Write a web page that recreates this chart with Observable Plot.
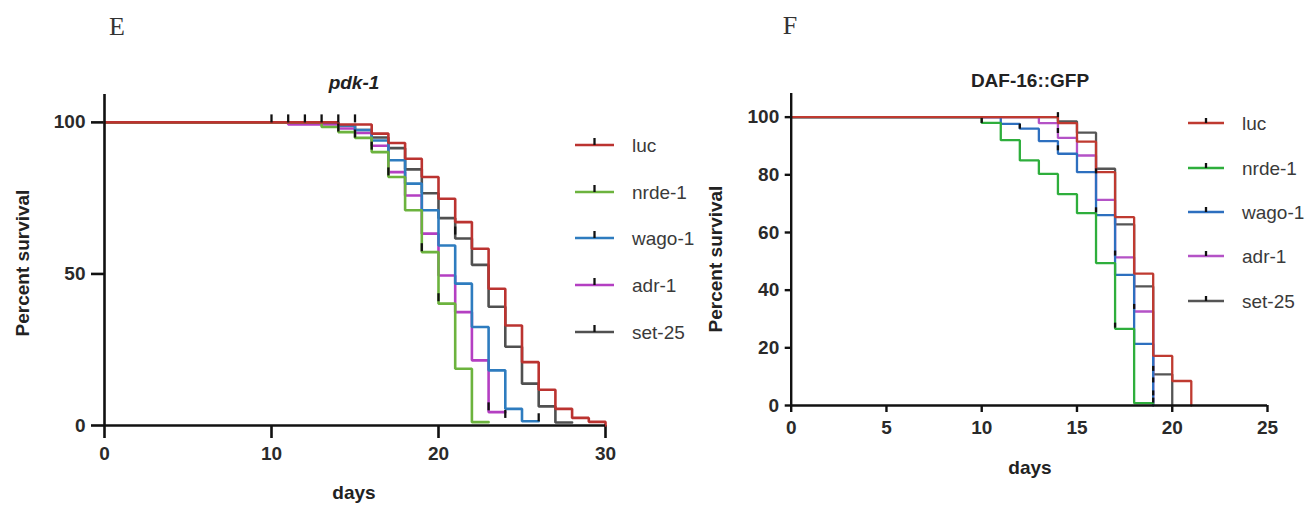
<!DOCTYPE html>
<html><head><meta charset="utf-8">
<script src="https://cdn.jsdelivr.net/npm/d3@7"></script>
<script src="https://cdn.jsdelivr.net/npm/@observablehq/plot@0.6"></script>
<style>
body{margin:0;background:#fff;}
#wrap{position:relative;width:1316px;height:505px;overflow:hidden;font-family:"Liberation Sans",Arial,sans-serif;background:#fff;}
.abs{position:absolute;white-space:nowrap;line-height:1;}
.panel{position:absolute;top:0;}
.ttl{font-weight:bold;font-size:19px;color:#222;transform:translate(-50%,-50%);}
.lbl{font-family:"Liberation Serif","Times New Roman",serif;font-size:26px;color:#333;transform:translate(-50%,-50%);}
.leg{font-size:19px;color:#3a3a3a;transform:translateY(-50%);}
</style></head><body><div id="wrap"></div>
<script>
// ---------- data ----------
const seriesNames = ["luc", "nrde-1", "wago-1", "adr-1", "set-25"];
const colorsE = ["#bb3330", "#6cb33e", "#2e7cbf", "#b43fc2", "#505050"];
const colorsF = ["#bf3a30", "#2eae3c", "#2d6fbf", "#b452c6", "#555555"];

// Panel E (pdk-1)
const eLucDays  = [0, 14, 16, 17, 18, 19, 20, 21, 22, 23, 24, 25, 26, 27, 28, 29, 30];
const eLucPct   = [100, 99.3, 96.3, 93.2, 88, 82, 74.8, 67.1, 58.3, 45.1, 33, 20.9, 11.8, 5.5, 2.5, 1.2, 0];
const eNrdeDays = [0, 13, 14, 15, 16, 17, 18, 19, 20, 21, 22, 23];
const eNrdePct  = [100, 98.5, 96.8, 94.9, 90.2, 82, 71, 57.2, 40.2, 18.7, 1.1, 1.1];
const eWagoDays = [0, 14, 15, 16, 17, 18, 19, 20, 21, 22, 23, 24, 25, 26];
const eWagoPct  = [100, 99, 97.5, 94, 87.5, 79.8, 71, 59.4, 46.8, 32.5, 18.2, 5.5, 1.4, 1.4];
const eAdrDays  = [0, 11, 14, 15, 16, 17, 18, 19, 20, 21, 22, 23, 24];
const eAdrPct   = [100, 99.3, 98, 96.5, 92.3, 83.6, 75.9, 63.3, 49.5, 37.4, 21.5, 4.4, 4.4];
const eSetDays  = [0, 14, 15, 16, 17, 18, 19, 20, 21, 22, 23, 24, 25, 26, 27, 28];
const eSetPct   = [100, 99, 97.5, 95, 91.5, 84.5, 76.6, 68.4, 61.7, 53, 39.2, 26, 13.8, 6.3, 1, 1];
const eCensorDays = [10, 11, 12, 13, 14, 15, 14, 15, 16, 17, 19, 20, 21, 23, 24, 26];
const eCensorPct  = [100, 100, 100, 100, 100, 100, 97, 95, 91, 82.5, 57.5, 41, 63, 5, 2.5, 1.4];
const eXTicks = [0, 10, 20, 30];
const eYTicks = [0, 50, 100];

// Panel F (DAF-16::GFP)
const fLucDays  = [0, 14, 15, 16, 17, 18, 19, 20, 21];
const fLucPct   = [100, 97.9, 91.5, 80.9, 65.3, 45.7, 17.2, 8.5, 0];
const fNrdeDays = [0, 10, 11, 12, 13, 14, 15, 16, 17, 18, 19];
const fNrdePct  = [100, 98, 92, 85, 80.3, 73.3, 66.7, 49.4, 26.6, 0.8, 0.8];
const fWagoDays = [0, 11, 12, 13, 14, 15, 16, 17, 18, 19];
const fWagoPct  = [100, 97.7, 96, 91.7, 87.3, 80.9, 66, 45.3, 21.4, 0];
const fAdrDays  = [0, 13, 14, 15, 16, 17, 18, 19];
const fAdrPct   = [100, 97.9, 92.8, 86.7, 71.3, 51.4, 32.6, 0];
const fSetDays  = [0, 14, 15, 16, 17, 18, 19, 20];
const fSetPct   = [100, 98.5, 94.6, 82.1, 62.8, 41.3, 10.8, 0];
const fCensorDays = [10, 12, 14, 14, 14, 16, 16, 17, 17, 18, 19, 19, 19, 19];
const fCensorPct  = [98, 96, 100, 94.5, 88.5, 80.5, 67, 52, 27, 33.5, 12, 8, 3.5, 1];
const fXTicks = [0, 5, 10, 15, 20, 25];
const fYTicks = [0, 20, 40, 60, 80, 100];

// ---------- build tables ----------
function rows(daysList, pctList) {
  const out = [];
  // draw in reverse legend order so "luc" ends on top
  for (let i = seriesNames.length - 1; i >= 0; i--) {
    daysList[i].forEach((d, j) => out.push({series: seriesNames[i], day: d, pct: pctList[i][j]}));
  }
  return out;
}
const rowsE = rows([eLucDays, eNrdeDays, eWagoDays, eAdrDays, eSetDays], [eLucPct, eNrdePct, eWagoPct, eAdrPct, eSetPct]);
const rowsF = rows([fLucDays, fNrdeDays, fWagoDays, fAdrDays, fSetDays], [fLucPct, fNrdePct, fWagoPct, fAdrPct, fSetPct]);
const censorE = eCensorDays.map((d, i) => ({day: d, pct: eCensorPct[i]}));
const censorF = fCensorDays.map((d, i) => ({day: d, pct: fCensorPct[i]}));

const tickUp = (len) => ({draw(ctx) { ctx.moveTo(0, 0); ctx.lineTo(0, -len); }});
const font = "Liberation Sans, Arial, sans-serif";

function panel(o) {
  return Plot.plot({
    width: o.width, height: 505,
    marginLeft: o.ml, marginRight: o.mr, marginTop: o.mt, marginBottom: o.mb,
    x: {domain: o.xDomain},
    y: {domain: o.yDomain},
    color: {domain: seriesNames, range: o.colors},
    style: {fontFamily: font, background: "transparent", overflow: "visible"},
    marks: [
      Plot.axisX({ticks: o.xTicks, tickSize: o.xts, tickPadding: o.xtp, fontSize: 19, fontWeight: "bold", fill: "#2a2a2a", stroke: "#111", strokeWidth: o.aw, label: null}),
      Plot.axisY({ticks: o.yTicks, tickSize: o.yts, tickPadding: o.ytp, fontSize: 19, fontWeight: "bold", fill: "#2a2a2a", stroke: "#111", strokeWidth: o.aw, label: null}),
      Plot.line(o.rows, {x: "day", y: "pct", z: "series", stroke: "series", curve: "step-after", strokeWidth: o.lw, strokeLinejoin: "miter"}),
      Plot.dot(o.censor, {x: "day", y: "pct", symbol: tickUp(o.cl), r: 3, stroke: "#111", strokeWidth: 2.3, fill: "none"}),
      Plot.ruleX([0], {stroke: "#111", strokeWidth: o.aw}),
      Plot.ruleY([0], {stroke: "#111", strokeWidth: o.aw})
    ]
  });
}

const wrap = document.getElementById("wrap");
const pE = panel({width: 700, ml: 104, mr: 95, mt: 94, mb: 80, xDomain: [0, 30], yDomain: [0, 109.2],
  xTicks: eXTicks, yTicks: eYTicks, xts: 13, xtp: 8, yts: 13, ytp: 6, aw: 2.6, lw: 2.6, cl: 8,
  colors: colorsE, rows: rowsE, censor: censorE});
pE.classList.add("panel"); pE.style.left = "0px";
wrap.appendChild(pE);
const pF = panel({width: 616, ml: 90.7, mr: 49, mt: 93, mb: 100, xDomain: [0, 25], yDomain: [0, 108.2],
  xTicks: fXTicks, yTicks: fYTicks, xts: 7, xtp: 8, yts: 6, ytp: 6, aw: 2.4, lw: 2.3, cl: 5,
  colors: colorsF, rows: rowsF, censor: censorF});
pF.classList.add("panel"); pF.style.left = "700px";
wrap.appendChild(pF);

// ---------- text ----------
function addText(cls, txt, x, y, extra) {
  const d = document.createElement("div");
  d.className = "abs " + cls;
  d.textContent = txt;
  d.style.left = x + "px"; d.style.top = y + "px";
  if (extra) Object.assign(d.style, extra);
  wrap.appendChild(d);
  return d;
}
addText("lbl", "E", 117, 27);
addText("lbl", "F", 790, 26);
addText("ttl", "pdk-1", 354, 82, {fontStyle: "italic"});
addText("ttl", "DAF-16::GFP", 1030, 80);
addText("ttl", "days", 354, 492);
addText("ttl", "days", 1030, 467);
addText("ttl", "Percent survival", 22, 263, {transform: "translate(-50%,-50%) rotate(-90deg)"});
addText("ttl", "Percent survival", 715, 259, {transform: "translate(-50%,-50%) rotate(-90deg)"});

// ---------- legends ----------
function legend(colors, x0, x1, textX, ys, tickLen, lw) {
  seriesNames.forEach((name, i) => {
    const svgNS = "http://www.w3.org/2000/svg";
    const s = document.createElementNS(svgNS, "svg");
    const w = x1 - x0;
    s.setAttribute("width", w); s.setAttribute("height", 20);
    s.style.position = "absolute"; s.style.left = x0 + "px"; s.style.top = (ys[i] - 12) + "px";
    const l = document.createElementNS(svgNS, "line");
    l.setAttribute("x1", 0); l.setAttribute("x2", w); l.setAttribute("y1", 12); l.setAttribute("y2", 12);
    l.setAttribute("stroke", colors[i]); l.setAttribute("stroke-width", lw);
    const t = document.createElementNS(svgNS, "line");
    t.setAttribute("x1", w / 2); t.setAttribute("x2", w / 2); t.setAttribute("y1", 12); t.setAttribute("y2", 12 - tickLen);
    t.setAttribute("stroke", "#111"); t.setAttribute("stroke-width", 2.3);
    s.appendChild(l); s.appendChild(t);
    wrap.appendChild(s);
    addText("leg", name, textX, ys[i]);
  });
}
legend(colorsE, 575, 614, 632, [145, 191.7, 238.3, 285, 331.7], 7, 2.6);
legend(colorsF, 1188, 1224, 1242, [123, 168, 212, 256, 300.5], 5, 2.3);
</script></body></html>
